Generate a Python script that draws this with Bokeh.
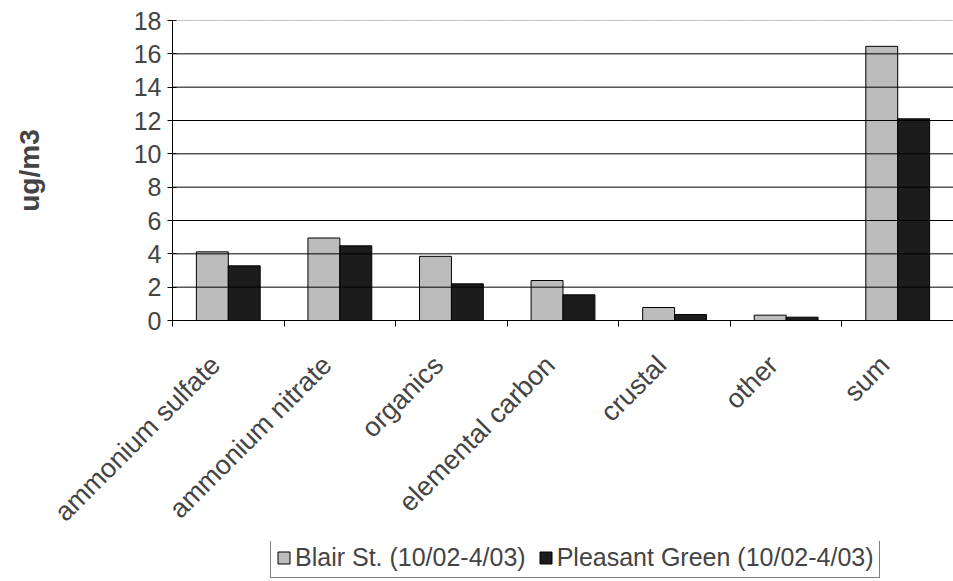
import numpy as np
from math import pi
from bokeh.plotting import figure
from bokeh.layouts import column
from bokeh.models import (Range1d, FixedTicker, LinearAxis, Legend, LegendItem,
                          ColumnDataSource, Span)
from bokeh.embed import file_html
from bokeh.resources import INLINE

categories = ["ammonium sulfate", "ammonium nitrate", "organics",
              "elemental carbon", "crustal", "other", "sum"]
blair = [4.12, 4.95, 3.85, 2.4, 0.78, 0.32, 16.45]
pleasant = [3.28, 4.48, 2.2, 1.54, 0.36, 0.2, 12.1]
series_names = ["Blair St. (10/02-4/03)", "Pleasant Green (10/02-4/03)"]
y_ticks = list(range(0, 19, 2))

FONT = "Liberation Sans"
BLAIR_COLOR = "#bcbcbc"
PLEASANT_COLOR = "#1c1c1c"

p = figure(width=953, height=541, output_backend="svg", toolbar_location=None,
           x_range=Range1d(0, len(categories)), y_range=Range1d(0, 18),
           x_axis_type=None, y_axis_type=None,
           min_border_left=172, min_border_right=0, min_border_top=20,
           min_border_bottom=221)
p.outline_line_color = None
p.background_fill_color = None
p.border_fill_color = "white"
p.xgrid.visible = False

centers = np.arange(len(categories)) + 0.5
off = 0.143
w = 0.286
src_b = ColumnDataSource(dict(x=centers - off, top=blair))
src_p = ColumnDataSource(dict(x=centers + off, top=pleasant))

# y axis
yax = LinearAxis(ticker=FixedTicker(ticks=y_ticks))
yax.axis_label = "ug/m3"
yax.axis_label_text_font = FONT
yax.axis_label_text_font_style = "bold"
yax.axis_label_text_font_size = "28px"
yax.axis_label_standoff = 86
yax.major_label_text_font = FONT
yax.major_label_text_font_size = "25px"
yax.major_label_standoff = 6
yax.major_tick_in = 4
yax.major_tick_out = 5
yax.minor_tick_in = 0
yax.minor_tick_out = 0
yax.axis_line_color = "black"
yax.major_tick_line_color = "black"
p.add_layout(yax, "left")

# horizontal gridlines
for t in y_ticks[1:]:
    if t == 18:
        p.add_layout(Span(location=t, dimension="width", line_color="#555555",
                          line_width=1, line_dash="2 1"))
    else:
        p.add_layout(Span(location=t, dimension="width", line_color="black",
                          line_width=1))

p.vbar(x="x", top="top", width=w, source=src_b, fill_color=BLAIR_COLOR,
       line_color="black", line_width=1)
p.vbar(x="x", top="top", width=w, source=src_p, fill_color=PLEASANT_COLOR,
       line_color="black", line_width=1)

# x axis: labels near centres, ticks at boundaries
label_pos = list(centers - 0.115)
xax = LinearAxis(ticker=FixedTicker(ticks=label_pos,
                                    minor_ticks=list(range(len(categories) + 1))))
xax.major_label_overrides = {float(c): cat for c, cat in zip(label_pos, categories)}
xax.major_label_orientation = pi / 4
xax.major_label_text_font = FONT
xax.major_label_text_font_size = "27px"
xax.major_label_standoff = 34
xax.major_tick_in = 0
xax.major_tick_out = 0
xax.minor_tick_in = 0
xax.minor_tick_out = 6
xax.minor_tick_line_color = "black"
xax.axis_line_color = "black"
p.add_layout(xax, "below")

# legend strip
q = figure(width=953, height=40, output_backend="svg", toolbar_location=None,
           x_range=Range1d(0, 953), y_range=Range1d(0, 40),
           x_axis_type=None, y_axis_type=None, min_border=0)
q.outline_line_color = None
q.grid.visible = False
dummy = ColumnDataSource(dict(x=[-5000], top=[0]))
lb = q.vbar(x="x", top="top", width=1, source=dummy, fill_color=BLAIR_COLOR,
            line_color="black", line_width=1)
lp = q.vbar(x="x", top="top", width=1, source=dummy, fill_color=PLEASANT_COLOR,
            line_color="black", line_width=1)
legend = Legend(items=[LegendItem(label=series_names[0], renderers=[lb], index=0),
                       LegendItem(label=series_names[1], renderers=[lp], index=0)],
                orientation="horizontal", location=(98, 3))
legend.label_text_font = FONT
legend.label_text_font_size = "25px"
legend.glyph_width = 15
legend.glyph_height = 15
legend.label_standoff = 4
legend.spacing = 12
legend.padding = 5
legend.margin = 0
legend.border_line_color = "black"
legend.border_line_width = 1
legend.background_fill_color = "white"
q.add_layout(legend, "center")

layout = column(p, q, spacing=0)
open("out.html", "w").write(file_html(layout, INLINE))
